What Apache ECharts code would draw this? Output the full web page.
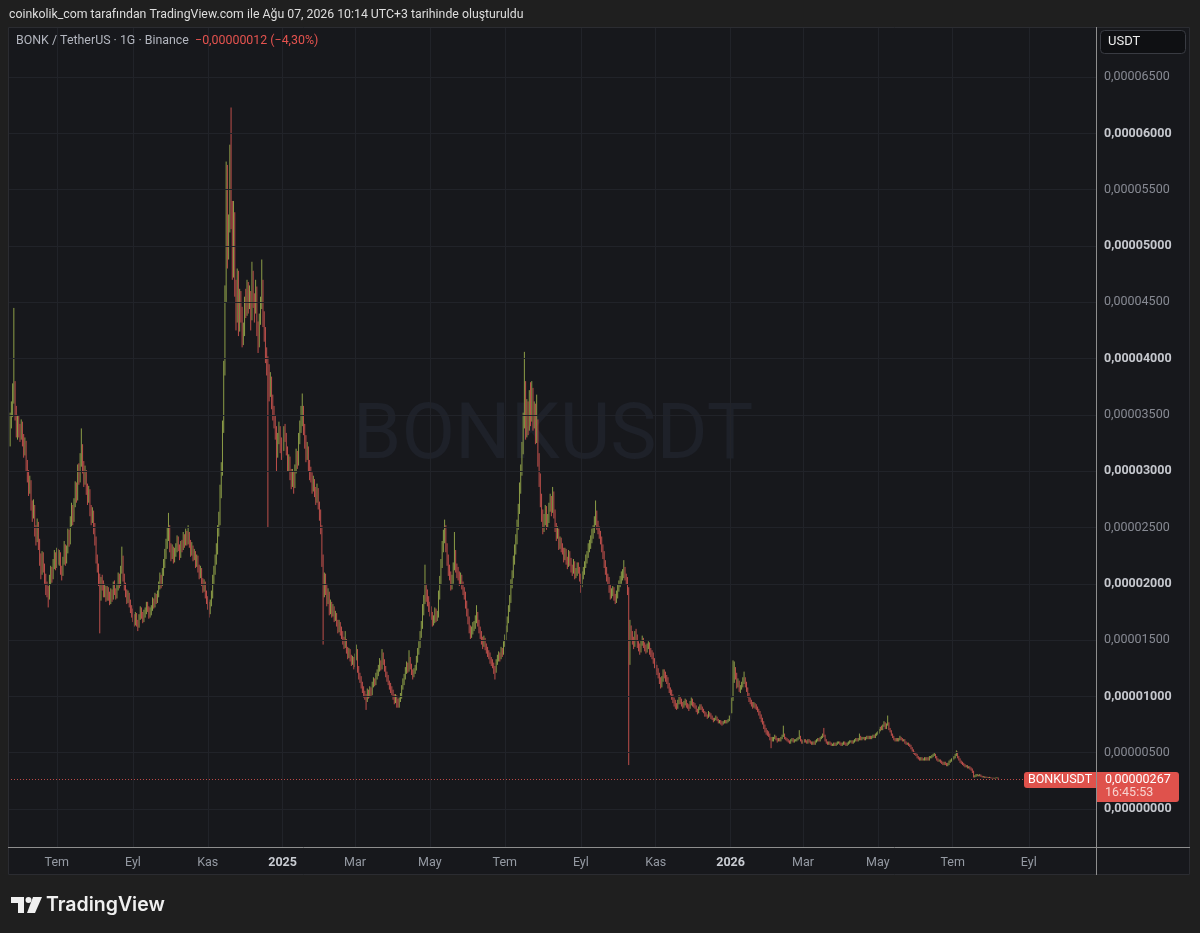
<!DOCTYPE html>
<html>
<head>
<meta charset="utf-8">
<title>BONKUSDT</title>
<script src="https://cdn.jsdelivr.net/npm/echarts@6.0.0/dist/echarts.min.js"></script>
<style>
html,body{margin:0;padding:0;background:#1f1f1f;}
#chart{width:1200px;height:933px;}
</style>
</head>
<body>
<div id="chart"></div>
<script>
// ---------- DATA: daily candles, prices in units of 0.0000001 USDT, rows = [open, high, low, close] ----------
const may2024 = [[330,352,322,345],[345,362,338,355],[355,378,348,368],[368,445,360,372],[372,380,345,352],[352,358,330,337],[337,350,328,345],[345,349,330,338]];
const jun2024 = [[338,342,326,332],[332,346,328,340],[340,344,322,328],[328,333,312,318],[318,330,314,325],[325,327,300,305],[305,310,290,296],[296,301,278,283],[283,296,280,290],[290,292,265,270],[270,274,255,262],[262,275,258,268],[268,270,242,248],[248,252,234,240],[240,258,237,252],[252,255,230,236],[236,240,216,222],[222,227,204,212],[212,229,208,224],[224,228,210,215],[215,218,200,205],[205,209,190,196],[196,202,188,194],[194,198,179,190],[190,208,186,204],[204,216,199,212],[212,215,201,208],[208,222,204,217],[217,230,213,224],[224,228,212,219]];
const jul2024 = [[219,232,214,228],[228,231,217,222],[222,230,216,226],[226,228,208,214],[214,216,203,210],[210,224,207,220],[220,238,217,232],[232,235,216,221],[221,234,218,230],[230,249,227,244],[244,248,233,238],[238,260,235,255],[255,272,251,266],[266,270,252,258],[258,276,255,272],[272,291,268,285],[285,290,272,278],[278,306,274,301],[301,307,288,294],[294,316,290,310],[310,338,304,319],[319,324,298,304],[304,309,286,292],[292,305,288,298],[298,301,279,284],[284,289,270,276],[276,287,272,281],[281,284,260,266],[266,270,252,258],[258,268,254,262],[262,265,244,250]];
const aug2024 = [[250,254,234,238],[238,242,218,221],[221,226,210,214],[214,218,198,205],[205,209,156,190],[190,206,185,202],[202,208,194,199],[199,203,188,192],[192,200,188,196],[196,198,184,188],[188,198,185,194],[194,197,185,190],[190,193,181,185],[185,196,182,192],[192,195,184,188],[188,202,186,198],[198,203,190,194],[194,196,186,190],[190,200,187,197],[197,210,194,205],[205,209,196,200],[200,216,198,212],[212,233,209,222],[222,225,202,206],[206,209,194,198],[198,201,188,192],[192,195,182,186],[186,194,183,190],[190,192,179,182],[182,186,174,178],[178,181,170,175]];
const sep2024 = [[175,178,166,170],[170,173,162,166],[166,175,163,172],[172,174,162,165],[165,168,158,163],[163,173,161,170],[170,180,168,176],[176,179,169,172],[172,175,165,168],[168,177,166,174],[174,179,170,175],[175,184,173,181],[181,184,175,178],[178,180,169,172],[172,179,170,176],[176,181,172,178],[178,188,176,184],[184,187,178,181],[181,192,179,188],[188,191,182,185],[185,194,183,190],[190,202,188,198],[198,210,195,205],[205,208,196,200],[200,214,198,210],[210,222,207,217],[217,231,214,226],[226,240,222,235],[235,250,231,244],[244,263,238,248]];
const oct2024 = [[248,252,228,232],[232,236,220,226],[226,235,222,230],[230,233,218,222],[222,232,219,228],[228,236,224,230],[230,243,228,238],[238,242,229,232],[232,235,221,225],[225,238,223,234],[234,239,228,232],[232,246,230,240],[240,244,232,236],[236,249,234,244],[244,247,234,238],[238,252,235,243],[243,246,232,236],[236,239,224,228],[228,237,225,232],[232,234,220,224],[224,231,221,226],[226,229,214,218],[218,226,215,222],[222,225,210,214],[214,217,204,208],[208,216,205,212],[212,214,198,202],[202,205,192,196],[196,204,193,200],[200,202,187,190],[190,194,182,186]];
const nov2024 = [[186,189,177,180],[180,184,170,175],[175,186,173,183],[183,194,180,190],[190,208,187,203],[203,216,199,212],[212,226,208,222],[222,236,217,230],[230,252,226,246],[246,264,242,257],[257,288,252,282],[282,308,276,301],[301,345,296,340],[340,398,334,392],[392,465,385,458],[458,575,450,566],[566,572,480,500],[500,528,488,520],[520,590,512,576],[576,623,515,530],[530,540,470,480],[480,540,472,525],[525,530,455,462],[462,470,425,440],[440,480,432,472],[472,478,420,430],[430,462,424,455],[455,460,432,440],[440,446,410,418],[418,432,412,425]];
const dec2024 = [[425,455,420,448],[448,462,436,443],[443,470,438,462],[462,468,440,450],[450,465,444,456],[456,460,425,438],[438,486,434,470],[470,478,445,452],[452,458,432,445],[445,470,440,461],[461,464,420,428],[428,433,405,415],[415,440,410,434],[434,455,430,448],[448,488,444,465],[465,470,428,436],[436,442,415,425],[425,428,396,404],[404,410,385,396],[396,402,250,390],[390,395,362,372],[372,388,366,380],[380,384,355,363],[363,368,345,352],[352,358,338,345],[345,350,328,336],[336,340,300,318],[318,334,312,328],[328,344,324,336],[336,340,316,323],[323,330,310,318]];
const jan2025 = [[318,328,312,322],[322,340,318,335],[335,342,326,330],[330,334,314,319],[319,322,300,305],[305,315,300,310],[310,313,292,298],[298,302,284,290],[290,302,286,297],[297,300,280,288],[288,306,285,302],[302,320,298,315],[315,318,302,308],[308,334,305,328],[328,345,324,340],[340,358,334,352],[352,369,340,354],[354,358,332,338],[338,342,320,328],[328,332,308,315],[315,326,310,320],[320,322,300,305],[305,310,292,298],[298,304,290,297],[297,299,280,285],[285,296,282,290],[290,293,277,282],[282,286,270,276],[276,289,272,283],[283,285,266,270],[270,273,256,262]];
const feb2025 = [[262,266,244,248],[248,252,215,222],[222,226,146,194],[194,210,188,205],[205,209,190,196],[196,200,180,186],[186,196,182,190],[190,193,172,177],[177,186,173,181],[181,184,170,174],[174,182,171,178],[178,180,166,170],[170,176,167,172],[172,174,162,165],[165,168,156,160],[160,168,157,164],[164,166,154,158],[158,162,151,155],[155,158,146,150],[150,153,142,146],[146,158,143,149],[149,151,138,141],[141,144,133,137],[137,143,134,140],[140,142,131,134],[134,137,127,130],[130,136,128,133],[133,135,124,128]];
const mar2025 = [[128,138,126,136],[136,146,132,140],[140,142,121,124],[124,127,115,118],[118,121,112,115],[115,118,107,110],[110,113,103,106],[106,109,99,101],[101,105,97,100],[100,102,88,97],[97,107,95,104],[104,106,98,101],[101,109,99,106],[106,108,100,103],[103,113,101,110],[110,117,108,114],[114,116,109,112],[112,121,110,118],[118,124,115,121],[121,128,118,125],[125,134,122,130],[130,132,123,126],[126,142,124,137],[137,139,128,131],[131,133,122,125],[125,127,117,120],[120,122,113,116],[116,119,110,112],[112,114,106,109],[109,112,103,106],[106,109,101,104]];
const apr2025 = [[104,106,97,100],[100,102,93,96],[96,102,94,99],[99,101,90,95],[95,98,90,92],[92,99,90,97],[97,103,95,100],[100,110,98,108],[108,116,106,113],[113,120,110,117],[117,126,115,123],[123,131,120,128],[128,130,121,124],[124,141,122,132],[132,135,124,127],[127,129,119,121],[121,124,115,119],[119,125,117,122],[122,128,120,125],[125,136,123,133],[133,143,130,140],[140,149,137,146],[146,158,143,155],[155,167,152,163],[163,182,160,178],[178,190,172,186],[186,217,182,194],[194,200,184,190],[190,195,180,186],[186,189,175,180]];
const may2025 = [[180,184,171,175],[175,180,168,172],[172,175,162,166],[166,172,163,168],[168,179,165,175],[175,178,166,170],[170,176,167,172],[172,194,170,190],[190,207,186,203],[203,222,199,218],[218,238,214,234],[234,248,228,242],[242,257,236,248],[248,252,228,232],[232,236,216,221],[221,226,207,212],[212,217,203,208],[208,211,194,198],[198,208,195,203],[203,219,200,215],[215,246,212,226],[226,230,210,214],[214,218,205,210],[210,215,203,208],[208,211,198,202],[202,210,199,206],[206,208,195,199],[199,202,190,194],[194,197,186,190],[190,193,178,182],[182,185,171,175]];
const jun2025 = [[175,178,164,168],[168,171,156,160],[160,163,151,155],[155,162,152,158],[158,166,155,162],[162,167,158,163],[163,172,160,168],[168,181,165,172],[172,175,162,165],[165,168,156,160],[160,162,151,155],[155,158,146,150],[150,153,142,146],[146,154,144,150],[150,152,141,144],[144,147,138,141],[141,144,135,138],[138,141,133,137],[137,139,129,132],[132,135,127,130],[130,133,125,128],[128,130,120,124],[124,127,115,123],[123,133,121,130],[130,137,128,134],[134,140,131,137],[137,139,131,135],[135,144,133,141],[141,143,135,139],[139,149,137,146]];
const jul2025 = [[146,155,144,152],[152,163,150,160],[160,171,157,168],[168,181,165,178],[178,190,175,186],[186,204,183,200],[200,212,196,208],[208,225,205,221],[221,235,217,230],[230,244,226,239],[239,257,235,252],[252,271,248,266],[266,290,262,284],[284,306,280,301],[301,326,296,320],[320,352,315,345],[345,406,338,372],[372,380,328,336],[336,364,330,358],[358,362,332,340],[340,372,336,366],[366,379,340,348],[348,380,344,370],[370,374,336,342],[342,362,338,356],[356,360,324,330],[330,368,325,342],[342,346,304,310],[310,316,286,292],[292,298,268,274],[274,280,255,262]];
const aug2025 = [[262,266,244,250],[250,262,246,258],[258,270,252,266],[266,269,248,254],[254,262,250,257],[257,272,254,268],[268,280,264,274],[274,278,260,266],[266,286,263,279],[279,282,258,262],[262,266,246,250],[250,254,238,243],[243,251,240,246],[246,249,230,234],[234,242,231,238],[238,241,228,232],[232,236,226,230],[230,232,219,224],[224,232,221,228],[228,231,217,221],[221,224,213,218],[218,230,215,226],[226,229,216,220],[220,223,210,214],[214,217,207,212],[212,222,209,218],[218,220,204,208],[208,214,205,210],[210,219,207,216],[216,219,209,212],[212,215,202,206]];
const sep2025 = [[206,209,192,200],[200,211,197,208],[208,215,204,212],[212,220,208,217],[217,226,214,222],[222,229,218,226],[226,236,223,232],[232,239,228,236],[236,243,231,239],[239,249,236,245],[245,252,240,248],[248,260,245,256],[256,274,252,261],[261,265,248,252],[252,256,244,248],[248,251,240,244],[244,247,235,239],[239,242,228,232],[232,235,222,226],[226,229,214,218],[218,221,208,212],[212,215,202,206],[206,209,199,203],[203,206,192,196],[196,199,186,190],[190,196,187,192],[192,198,189,194],[194,197,185,188],[188,191,182,186],[186,194,183,190]];
const oct2025 = [[190,199,187,196],[196,203,193,200],[200,207,197,203],[203,211,200,207],[207,213,203,208],[208,221,205,212],[212,215,203,206],[206,209,199,203],[203,206,190,194],[194,197,39,132],[132,168,128,159],[159,163,150,154],[154,158,146,150],[150,153,142,146],[146,158,144,155],[155,160,149,152],[152,155,143,146],[146,149,140,144],[144,147,137,141],[141,150,139,147],[147,154,145,150],[150,152,143,146],[146,148,140,143],[143,146,138,141],[141,147,139,144],[144,149,142,146],[146,148,137,140],[140,143,135,138],[138,141,133,137],[137,139,129,132],[132,134,125,128]];
const nov2025 = [[128,131,122,125],[125,128,119,122],[122,125,116,119],[119,121,111,114],[114,117,107,110],[110,118,108,115],[115,124,113,121],[121,124,116,119],[119,122,113,116],[116,119,111,115],[115,117,107,110],[110,112,103,106],[106,108,101,104],[104,106,97,100],[100,102,94,97],[97,99,91,94],[94,97,89,92],[92,94,88,91],[91,97,89,95],[95,101,93,98],[98,100,93,96],[96,98,91,93],[93,95,89,92],[92,96,90,94],[94,98,92,95],[95,97,90,92],[92,94,89,91],[91,93,87,90],[90,96,89,94],[94,99,92,97]];
const dec2025 = [[97,98,91,93],[93,95,90,92],[92,94,89,91],[91,92,86,88],[88,89,84,86],[86,91,85,89],[89,93,88,91],[91,93,88,90],[90,91,86,87],[87,89,85,86],[86,87,82,84],[84,86,82,83],[83,84,80,82],[82,87,81,85],[85,86,82,84],[84,85,80,81],[81,83,79,80],[80,81,77,79],[79,81,78,80],[80,83,79,81],[81,82,78,79],[79,80,76,77],[77,79,76,78],[78,79,75,77],[77,78,74,76],[76,78,75,77],[77,79,76,78],[78,79,76,77],[77,79,76,78],[78,80,77,79],[79,83,78,81]];
const jan2026 = [[81,88,80,86],[86,99,85,97],[97,132,96,115],[115,131,112,123],[123,126,115,119],[119,121,107,110],[110,116,108,112],[112,114,104,106],[106,110,103,108],[108,113,106,110],[110,117,108,113],[113,122,111,115],[115,117,108,111],[111,113,104,106],[106,108,99,101],[101,103,95,97],[97,99,93,95],[95,97,91,93],[93,95,89,91],[91,95,90,93],[93,94,89,91],[91,93,88,90],[90,91,86,88],[88,89,83,85],[85,87,80,82],[82,84,77,79],[79,81,75,77],[77,78,71,73],[73,75,68,70],[70,72,66,68],[68,70,65,67]];
const feb2026 = [[67,69,64,66],[66,67,61,63],[63,64,54,61],[61,64,60,62],[62,64,60,63],[63,66,62,64],[64,65,61,62],[62,63,59,61],[61,63,60,62],[62,63,60,61],[61,64,60,63],[63,66,62,65],[65,74,64,66],[66,67,62,63],[63,64,61,62],[62,63,60,61],[61,62,59,60],[60,61,58,59],[59,62,58,61],[61,63,60,62],[62,63,59,60],[60,62,59,61],[61,62,60,61],[61,63,60,62],[62,64,61,63],[63,70,62,64],[64,65,60,61],[61,62,58,59]];
const mar2026 = [[59,61,58,60],[60,62,59,61],[61,62,59,60],[60,61,58,59],[59,62,58,61],[61,62,59,60],[60,61,58,59],[59,60,57,58],[58,60,57,59],[59,60,57,58],[58,61,57,60],[60,62,59,61],[61,63,60,62],[62,63,60,61],[61,64,60,63],[63,65,62,64],[64,67,63,66],[66,72,64,65],[65,66,60,61],[61,62,58,59],[59,60,57,58],[58,60,57,59],[59,60,57,58],[58,59,56,57],[57,58,56,57],[57,59,56,58],[58,59,56,57],[57,59,56,58],[58,60,57,59],[59,60,58,59],[59,60,57,58]];
const apr2026 = [[58,59,56,57],[57,59,56,58],[58,60,57,59],[59,60,57,58],[58,59,56,57],[57,59,56,58],[58,60,57,59],[59,61,58,60],[60,61,59,60],[60,61,58,59],[59,61,58,60],[60,62,59,61],[61,63,60,62],[62,63,60,61],[61,63,60,62],[62,67,61,64],[64,65,61,62],[62,64,61,63],[63,64,62,63],[63,64,61,62],[62,64,61,63],[63,65,62,64],[64,65,62,63],[63,65,62,64],[64,65,62,63],[63,65,62,64],[64,66,63,65],[65,66,63,64],[64,67,63,66],[66,68,65,67]];
const may2026 = [[67,69,66,68],[68,71,67,70],[70,73,69,72],[72,74,70,71],[71,75,70,74],[74,78,73,76],[76,77,71,72],[72,76,71,75],[75,83,74,76],[76,77,70,71],[71,72,68,69],[69,70,65,66],[66,67,63,64],[64,65,61,62],[62,63,60,61],[61,63,60,62],[62,63,60,61],[61,63,60,62],[62,65,61,63],[63,64,61,62],[62,63,60,61],[61,62,60,61],[61,62,58,59],[59,60,57,58],[58,59,57,58],[58,59,56,57],[57,58,55,56],[56,57,53,54],[54,55,51,52],[52,53,49,50],[50,51,48,49]];
const jun2026 = [[49,50,47,48],[48,49,45,46],[46,47,44,45],[45,46,43,44],[44,46,43,45],[45,46,43,44],[44,45,43,44],[44,46,43,45],[45,46,43,44],[44,46,43,45],[45,46,43,44],[44,47,43,46],[46,47,45,46],[46,48,45,47],[47,49,46,48],[48,50,47,48],[48,49,45,46],[46,47,43,44],[44,45,42,43],[43,44,42,43],[43,44,41,42],[42,43,40,41],[41,42,39,40],[40,42,39,41],[41,42,39,40],[40,41,38,39],[39,41,38,40],[40,43,39,42],[42,44,41,43],[43,45,42,44]];
const jul2026 = [[44,46,43,45],[45,47,44,46],[46,49,45,48],[48,52,47,50],[50,51,45,46],[46,47,43,44],[44,45,41,42],[42,43,40,41],[41,42,39,40],[40,41,38,39],[39,40,37,38],[38,39,37,38],[38,39,36,37],[37,38,36,37],[37,38,35,36],[36,37,34,35],[35,36,32,33],[33,34,28,29],[29,30,28,29],[29,31,28.5,30],[30,31,29,30],[30,30.5,29,29.5],[29.5,31,29,30],[30,30.5,28.5,29],[29,29.5,28,28.5],[28.5,29.2,28,28.5],[28.5,29,27.6,28],[28,28.8,27.7,28.3],[28.3,28.6,27.6,28],[28,28.4,27.4,27.8],[27.8,28.5,27.5,28]];
const aug2026 = [[28,28.2,27.3,27.6],[27.6,27.9,27,27.2],[27.2,27.8,27,27.5],[27.5,27.7,27,27.3],[27.3,27.9,27.1,27.6],[27.6,28.2,27.4,27.9],[27.9,28,26.5,26.7]];

const monthStarts = ['2024-05-24','2024-06-01','2024-07-01','2024-08-01','2024-09-01','2024-10-01','2024-11-01','2024-12-01','2025-01-01','2025-02-01','2025-03-01','2025-04-01','2025-05-01','2025-06-01','2025-07-01','2025-08-01','2025-09-01','2025-10-01','2025-11-01','2025-12-01','2026-01-01','2026-02-01','2026-03-01','2026-04-01','2026-05-01','2026-06-01','2026-07-01','2026-08-01'];
const monthRows = [may2024,jun2024,jul2024,aug2024,sep2024,oct2024,nov2024,dec2024,jan2025,feb2025,mar2025,apr2025,may2025,jun2025,jul2025,aug2025,sep2025,oct2025,nov2025,dec2025,jan2026,feb2026,mar2026,apr2026,may2026,jun2026,jul2026,aug2026];

const priceTicks = [0,50,100,150,200,250,300,350,400,450,500,550,600,650];
const timeTickDates = ['2024-07-01','2024-09-01','2024-11-01','2025-01-01','2025-03-01','2025-05-01','2025-07-01','2025-09-01','2025-11-01','2026-01-01','2026-03-01','2026-05-01','2026-07-01','2026-09-01'];
const timeTickLabels = ['Tem','Eyl','Kas','2025','Mar','May','Tem','Eyl','Kas','2026','Mar','May','Tem','Eyl'];
const viewStart = '2024-05-23';  // visible window (days)
const viewEnd = '2026-10-26';
const symbolName = 'BONKUSDT';
const headerText = 'coinkolik_com tarafından TradingView.com ile Ağu 07, 2026 10:14 UTC+3 tarihinde oluşturuldu';
const legendText = 'BONK / TetherUS · 1G · Binance';
const countdownText = '16:45:53';
const UNIT = 1e-7;

// ---------- BUILD ----------
const ORIGIN = Date.UTC(2025, 0, 1);
function dayNum(s) { const p = s.split('-').map(Number); return Math.round((Date.UTC(p[0], p[1] - 1, p[2]) - ORIGIN) / 86400000); }
const candles = [];
monthRows.forEach((rows, mi) => {
  const d0 = dayNum(monthStarts[mi]);
  rows.forEach((r, k) => candles.push([d0 + k, r[0], r[3], r[2], r[1]]));
});
const lastRow = aug2026[aug2026.length - 1];
const lastClose = lastRow[3];
const prevClose = lastRow[0];
const timeTickDays = timeTickDates.map(dayNum);

function fmtPrice(v) { return (v * UNIT).toFixed(8).replace('.', ','); }
const diff = lastClose - prevClose;
const diffText = (diff < 0 ? '\u2212' : '+') + fmtPrice(Math.abs(diff)) + ' (' + (diff < 0 ? '\u2212' : '+') + Math.abs(diff / prevClose * 100).toFixed(2).replace('.', ',') + '%)';

const FONT = 'Roboto, "Noto Sans", sans-serif';
const GRID = { left: 8, right: 104, top: 27, bottom: 86 };

const chart = echarts.init(document.getElementById('chart'), null, { renderer: 'canvas' });

const option = {
  animation: false,
  backgroundColor: '#17181c',
  grid: GRID,
  xAxis: {
    type: 'value',
    min: dayNum(viewStart) - 0.76,
    max: dayNum(viewEnd) - 0.24,
    axisLine: { show: false },
    axisTick: { show: false },
    splitLine: { show: false },
    axisLabel: {
      customValues: timeTickDays,
      margin: 9,
      fontFamily: FONT,
      formatter: function (v) {
        const k = timeTickDays.indexOf(Math.round(v));
        const t = timeTickLabels[k] || '';
        return /^\d{4}$/.test(t) ? '{y|' + t + '}' : '{m|' + t + '}';
      },
      rich: {
        m: { color: '#959aa3', fontSize: 12.5, fontFamily: FONT },
        y: { color: '#c9ccd2', fontSize: 12.5, fontWeight: 'bold', fontFamily: FONT }
      }
    }
  },
  yAxis: {
    type: 'value',
    position: 'right',
    min: -33.75,
    max: 694.5,
    axisLine: { show: false },
    axisTick: { show: false },
    splitLine: { show: false },
    axisLabel: {
      customValues: priceTicks,
      margin: 8,
      fontFamily: FONT,
      formatter: function (v) {
        return (Math.round(v) % 100 === 0 ? '{b|' : '{r|') + fmtPrice(v) + '}';
      },
      rich: {
        b: { color: '#c6c8ce', fontSize: 12.5, fontWeight: 'bold', fontFamily: FONT },
        r: { color: '#878a93', fontSize: 12.5, fontFamily: FONT }
      }
    }
  },
  series: [
    {
      type: 'line',
      data: [],
      silent: true,
      z: 1,
      markLine: {
        silent: true,
        animation: false,
        symbol: ['none', 'none'],
        label: { show: false },
        emphasis: { disabled: true },
        lineStyle: { color: '#212329', width: 1, type: 'solid' },
        data: priceTicks.map(v => ({ yAxis: v })).concat(timeTickDays.map(d => ({ xAxis: d })))
      }
    },
    {
      type: 'candlestick',
      data: candles,
      encode: { x: 0, y: [1, 2, 3, 4] },
      z: 3,
      large: true,
      largeThreshold: 300,
      barWidth: 1,
      itemStyle: {
        color: '#8c9d47',
        color0: '#bd4f4b',
        borderColor: '#8c9d47',
        borderColor0: '#bd4f4b',
        borderWidth: 1
      },
      markLine: {
        silent: true,
        animation: false,
        symbol: ['none', 'none'],
        label: { show: false },
        emphasis: { disabled: true },
        lineStyle: { color: '#d9534f', width: 1, type: [1, 2], opacity: 0.85 },
        data: [{ yAxis: lastClose }]
      }
    }
  ]
};
chart.setOption(option);

// ---------- decorations (layout) ----------
const yLast = chart.convertToPixel({ yAxisIndex: 0 }, lastClose);
const OUT = '#1f1f1f';
const graphics = [
  // outer frame bands
  { type: 'rect', shape: { x: 0, y: 0, width: 1200, height: 27 }, style: { fill: OUT }, z: 50 },
  { type: 'rect', shape: { x: 0, y: 875, width: 1200, height: 58 }, style: { fill: OUT }, z: 50 },
  { type: 'rect', shape: { x: 0, y: 0, width: 8, height: 933 }, style: { fill: OUT }, z: 50 },
  { type: 'rect', shape: { x: 1190, y: 0, width: 10, height: 933 }, style: { fill: OUT }, z: 50 },
  // pane border
  { type: 'rect', shape: { x: 8.5, y: 27.5, width: 1181, height: 847 }, style: { fill: null, stroke: '#2b2c31', lineWidth: 1 }, z: 51 },
  // watermark
  { type: 'text', x: 553, y: 438, style: { text: symbolName, fill: '#1e2129', font: '400 78px ' + FONT, align: 'center', verticalAlign: 'middle' }, z: 0, silent: true },
  // scale separators
  { type: 'line', shape: { x1: 1096.5, y1: 27, x2: 1096.5, y2: 875 }, style: { stroke: '#8e8e8e', lineWidth: 1 }, z: 60 },
  { type: 'line', shape: { x1: 8, y1: 847.5, x2: 1190, y2: 847.5 }, style: { stroke: '#8e8e8e', lineWidth: 1 }, z: 60 },
  // header
  { type: 'text', x: 9, y: 15, style: { text: headerText, fill: '#dedede', font: '12.3px ' + FONT, verticalAlign: 'middle' }, z: 60 },
  { type: 'text', x: 16, y: 41, style: {
      text: '{a|' + legendText + '}  {r|' + diffText + '}',
      font: '12.4px ' + FONT, verticalAlign: 'middle',
      rich: { a: { fill: '#b2b5be', font: '12.4px ' + FONT }, r: { fill: '#e5534f', font: '12.4px ' + FONT } }
    }, z: 60 },
  // USDT button
  { type: 'rect', shape: { x: 1100.5, y: 30.5, width: 85, height: 23, r: 4 }, style: { fill: '#0f1013', stroke: '#393b42', lineWidth: 1 }, z: 60 },
  { type: 'text', x: 1108, y: 42, style: { text: 'USDT', fill: '#ececec', font: '13px ' + FONT, verticalAlign: 'middle' }, z: 61 },
  // last price labels
  { type: 'rect', shape: { x: 1024, y: yLast - 7, width: 72, height: 16, r: [3, 0, 0, 3] }, style: { fill: '#df524c' }, z: 62 },
  { type: 'text', x: 1060, y: yLast + 1, style: { text: symbolName, fill: '#ffffff', font: '12.5px ' + FONT, align: 'center', verticalAlign: 'middle' }, z: 63 },
  { type: 'rect', shape: { x: 1097, y: yLast - 7, width: 82, height: 30, r: [0, 3, 3, 0] }, style: { fill: '#df524c' }, z: 62 },
  { type: 'text', x: 1105, y: yLast + 1, style: { text: fmtPrice(lastClose), fill: '#ffffff', font: '12.5px ' + FONT, verticalAlign: 'middle' }, z: 63 },
  { type: 'text', x: 1105, y: yLast + 14, style: { text: countdownText, fill: '#f7d3cf', font: '12.5px ' + FONT, verticalAlign: 'middle' }, z: 63 },
  // TradingView logo
  { type: 'rect', shape: { x: 11, y: 897, width: 13, height: 6 }, style: { fill: '#f0f0f0' }, z: 60 },
  { type: 'rect', shape: { x: 18, y: 897, width: 6, height: 16 }, style: { fill: '#f0f0f0' }, z: 60 },
  { type: 'circle', shape: { cx: 28.5, cy: 900, r: 3 }, style: { fill: '#f0f0f0' }, z: 60 },
  { type: 'polygon', shape: { points: [[33, 897], [42, 897], [35, 913], [27, 913]] }, style: { fill: '#f0f0f0' }, z: 60 },
  { type: 'text', x: 46, y: 905, style: { text: 'TradingView', fill: '#f0f0f0', font: '600 19.5px Inter, ' + FONT, verticalAlign: 'middle' }, z: 60 }
];
chart.setOption({ graphic: { elements: graphics } });
</script>
</body>
</html>
